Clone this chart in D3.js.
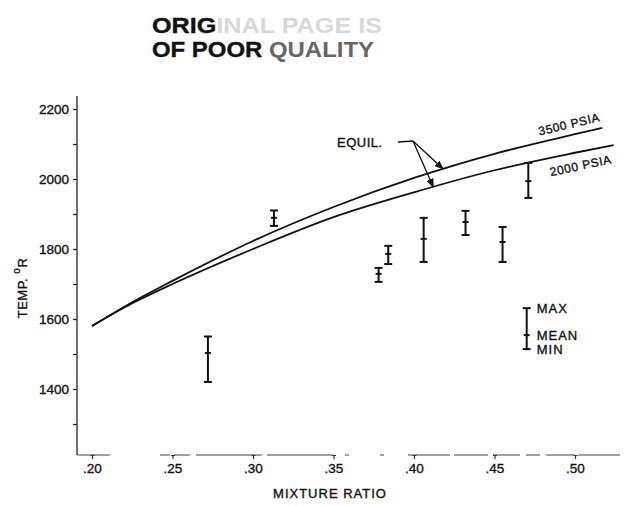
<!DOCTYPE html>
<html>
<head>
<meta charset="utf-8">
<script src="https://cdn.jsdelivr.net/npm/d3@7/dist/d3.min.js"></script>
<style>
  html, body { margin: 0; padding: 0; background: #fff; }
  svg { display: block; }
  text { font-family: "Liberation Sans", Arial, sans-serif; fill: #111; stroke: #111; stroke-width: 0.35px; }
</style>
</head>
<body>
<svg id="chart" width="625" height="506"></svg>
<script>
// Axis ticks
const ratioTicks = [0.20, 0.25, 0.30, 0.35, 0.40, 0.45, 0.50];
const ratioTickLabels = [".20", ".25", ".30", ".35", ".40", ".45", ".50"];
const tempTicks = [1400, 1600, 1800, 2000, 2200];
const tempMinorTicks = [1300, 1500, 1700, 1900, 2100];

// Equilibrium temperature curves
const ratio3500 = [0.200, 0.225, 0.250, 0.300, 0.350, 0.400, 0.450, 0.500, 0.517];
const temp3500  = [1580, 1648, 1709, 1823, 1920, 2003, 2072, 2128, 2146];
const ratio2000 = [0.200, 0.225, 0.250, 0.300, 0.350, 0.400, 0.450, 0.500, 0.524];
const temp2000  = [1580, 1645, 1700, 1800, 1891, 1962, 2025, 2075, 2097];

// Measured temperatures (max / mean / min)
const testRatio = [0.272, 0.313, 0.378, 0.384, 0.406, 0.432, 0.455, 0.471];
const testMax   = [1550, 1910, 1746, 1809, 1889, 1909, 1863, 2046];
const testMean  = [1503, 1889, 1729, 1786, 1829, 1877, 1820, 1994];
const testMin   = [1420, 1866, 1706, 1757, 1763, 1840, 1763, 1946];

// Key entry
const keyRatio = 0.470;
const keyTemps = [1631, 1554, 1514];
const keyLabels = ["MAX", "MEAN", "MIN"];

const svg = d3.select("#chart");

const x = d3.scaleLinear().domain([0.20, 0.50]).range([92, 575]);
const y = d3.scaleLinear().domain([1400, 2000]).range([389, 179]);

const axisX = 77;
const axisBottom = 455;

// Stamp at the top
const stamp = svg.append("g").attr("font-weight", "bold");
const line1 = stamp.append("text").attr("x", 152).attr("y", 33)
  .attr("font-size", 22).attr("textLength", 230).attr("lengthAdjust", "spacingAndGlyphs");
line1.append("tspan").text("ORIG");
line1.append("tspan").attr("fill", "#d8d8d8").attr("stroke", "none").text("INAL PAGE IS");
const line2 = stamp.append("text").attr("x", 152).attr("y", 57)
  .attr("font-size", 22).attr("textLength", 222).attr("lengthAdjust", "spacingAndGlyphs");
line2.append("tspan").text("OF POOR ");
line2.append("tspan").attr("fill", "#666").attr("stroke", "none").text("QUALITY");

// Y axis
svg.append("line")
  .attr("x1", axisX).attr("x2", axisX)
  .attr("y1", 96).attr("y2", axisBottom)
  .attr("stroke", "#222").attr("stroke-width", 1.3);

const yAxis = d3.axisLeft(y).tickValues(tempTicks).tickSize(4).tickPadding(4)
  .tickFormat(d3.format("d"));
const gy = svg.append("g").attr("transform", `translate(${axisX},0)`).call(yAxis);
gy.select(".domain").remove();
gy.selectAll("text").attr("font-size", 13.5).attr("fill", "#111")
  .attr("font-family", "Liberation Sans, Arial, sans-serif");
gy.selectAll("line").attr("stroke", "#222").attr("stroke-width", 1.3);

const gyMinor = svg.append("g").attr("transform", `translate(${axisX},0)`)
  .call(d3.axisLeft(y).tickValues(tempMinorTicks).tickSize(4).tickFormat(""));
gyMinor.select(".domain").remove();
gyMinor.selectAll("line").attr("stroke", "#222").attr("stroke-width", 1.3);

// X axis, printed faint and broken
svg.append("line")
  .attr("x1", axisX).attr("x2", 620)
  .attr("y1", axisBottom).attr("y2", axisBottom)
  .attr("stroke", "#444").attr("stroke-width", 1)
  .attr("stroke-dasharray", "33,50,10,4,16,6,66,5,66,12,4,31,4,24,42,4,34,5,27,6,14,6,29,3,42");

const xAxis = d3.axisBottom(x).tickValues(ratioTicks).tickSize(4).tickPadding(4)
  .tickFormat((d, i) => ratioTickLabels[i]);
const gx = svg.append("g").attr("transform", `translate(0,${axisBottom})`).call(xAxis);
gx.select(".domain").remove();
gx.selectAll("text").attr("font-size", 13.5).attr("fill", "#111")
  .attr("font-family", "Liberation Sans, Arial, sans-serif");
gx.selectAll("line").attr("stroke", "#333").attr("stroke-width", 1.2);
gx.selectAll(".tick").append("line")
  .attr("x1", -2).attr("x2", 2).attr("y1", 0.5).attr("y2", 0.5)
  .attr("stroke", "#333").attr("stroke-width", 1);

// Axis titles
svg.append("text")
  .attr("x", 330).attr("y", 498)
  .attr("text-anchor", "middle")
  .attr("font-size", 13)
  .attr("letter-spacing", 1)
  .text("MIXTURE RATIO");

const yTitle = svg.append("text")
  .attr("transform", "translate(27,288) rotate(-90)")
  .attr("text-anchor", "middle")
  .attr("font-size", 13)
  .attr("letter-spacing", 0.5);
yTitle.append("tspan").text("TEMP. ");
yTitle.append("tspan").attr("dy", -7).attr("font-size", 10).text("o");
yTitle.append("tspan").attr("dy", 7).text("R");

// Equilibrium curves
const line = d3.line().curve(d3.curveMonotoneX);
function curvePts(rs, ts) { return rs.map((r, i) => [x(r), y(ts[i])]); }

svg.append("path")
  .attr("d", line(curvePts(ratio3500, temp3500)))
  .attr("fill", "none").attr("stroke", "#111").attr("stroke-width", 1.8);
svg.append("path")
  .attr("d", line(curvePts(ratio2000, temp2000)))
  .attr("fill", "none").attr("stroke", "#111").attr("stroke-width", 1.8);

// Curve labels, set along the curve slope
function slopeAngle(rs, ts) {
  const n = rs.length;
  const dx = x(rs[n - 1]) - x(rs[n - 3]);
  const dy = y(ts[n - 1]) - y(ts[n - 3]);
  return Math.atan2(dy, dx) * 180 / Math.PI;
}
svg.append("text")
  .attr("transform", `translate(${x(0.478)},${y(2124)}) rotate(${slopeAngle(ratio3500, temp3500)})`)
  .attr("font-size", 12).attr("letter-spacing", 0.6)
  .text("3500 PSIA");
svg.append("text")
  .attr("transform", `translate(${x(0.485)},${y(2008)}) rotate(${slopeAngle(ratio2000, temp2000)})`)
  .attr("font-size", 12).attr("letter-spacing", 0.6)
  .text("2000 PSIA");

// EQUIL. callout with arrows to both curves
svg.append("defs").append("marker")
  .attr("id", "arrow").attr("viewBox", "0 0 10 10")
  .attr("refX", 9).attr("refY", 5)
  .attr("markerWidth", 7).attr("markerHeight", 7)
  .attr("orient", "auto")
  .append("path").attr("d", "M0,1 L10,5 L0,9 Z").attr("fill", "#111");

svg.append("text")
  .attr("x", 337).attr("y", 147)
  .attr("font-size", 13).attr("letter-spacing", 0.5)
  .text("EQUIL.");
const hub = [413, 141];
svg.append("line")
  .attr("x1", 398).attr("y1", 142).attr("x2", hub[0]).attr("y2", hub[1])
  .attr("stroke", "#111").attr("stroke-width", 1.3);
svg.append("line")
  .attr("x1", hub[0]).attr("y1", hub[1]).attr("x2", x(0.418)).attr("y2", y(2029))
  .attr("stroke", "#111").attr("stroke-width", 1.3).attr("marker-end", "url(#arrow)");
svg.append("line")
  .attr("x1", hub[0]).attr("y1", hub[1]).attr("x2", x(0.412)).attr("y2", y(1977))
  .attr("stroke", "#111").attr("stroke-width", 1.3).attr("marker-end", "url(#arrow)");

// Error bars
function errorBar(g, r, hi, mid, lo) {
  const cx = x(r);
  g.append("line").attr("x1", cx).attr("x2", cx).attr("y1", y(hi)).attr("y2", y(lo));
  g.append("line").attr("x1", cx - 4).attr("x2", cx + 4).attr("y1", y(hi)).attr("y2", y(hi));
  g.append("line").attr("x1", cx - 4).attr("x2", cx + 4).attr("y1", y(lo)).attr("y2", y(lo));
  g.append("line").attr("x1", cx - 3).attr("x2", cx + 3).attr("y1", y(mid)).attr("y2", y(mid));
}
const bars = svg.append("g").attr("stroke", "#111").attr("stroke-width", 2);
testRatio.forEach((r, i) => errorBar(bars, r, testMax[i], testMean[i], testMin[i]));

// Key
const key = svg.append("g").attr("stroke", "#111").attr("stroke-width", 2);
errorBar(key, keyRatio, keyTemps[0], keyTemps[1], keyTemps[2]);
svg.append("g").selectAll("text").data(keyLabels).join("text")
  .attr("x", x(keyRatio) + 10)
  .attr("y", (d, i) => y(keyTemps[i]) + 5)
  .attr("font-size", 13).attr("letter-spacing", 1)
  .text(d => d);
</script>
</body>
</html>
